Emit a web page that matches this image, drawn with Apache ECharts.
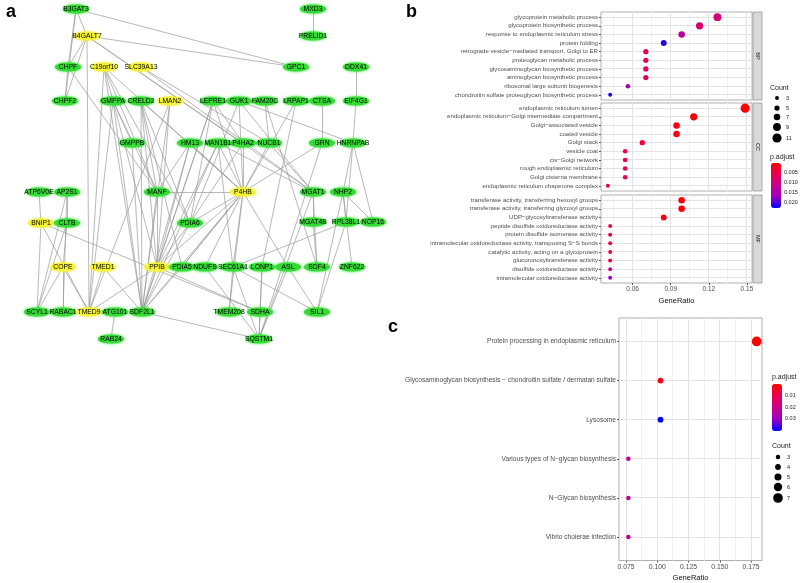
<!DOCTYPE html>
<html><head><meta charset="utf-8">
<script src="https://cdn.jsdelivr.net/npm/echarts@6/dist/echarts.min.js"></script>
<style>html,body{margin:0;padding:0;background:#fff}#c{width:800px;height:583px}</style>
</head><body><div id="c"></div><script>
// ---------------- DATA ----------------
// Panel a: network (layout coordinates)
const nodeNames = ['B3GAT3','MXD3','B4GALT7','PRELID1','CHPF','C19orf10','SLC39A13','GPC1','DDX41',
 'CHPF2','GMPPA','CRELD2','LMAN2','LEPRE1','GUK1','FAM20C','LRPAP1','CTSA','EIF4G1',
 'GMPPB','HM13','MAN1B1','P4HA2','NUCB1','GRN','HNRNPAB',
 'ATP6V0E','AP2S1','MANF','P4HB','MGAT1','NHP2',
 'BNIP1','CLTB','PDIA6','MGAT4B','RPL38L1','NOP16',
 'COPE','TMED1','PPIB','PDIA5','NDUFS','SEC61A1','LONP1','ASL','SDF4','ZNF622',
 'SCYL1','RABAC1','TMED9','ATG101','SDF2L1','TMEM208','SDHA','SIL1',
 'RAB24','SQSTM1'];
const nodeX = [76,313,87,313,68,104,141,296,356,
 65,113,141,170,213,239,265,296,322,356,
 132,190,218,243,269,322,353,
 39,67,157,243,313,343,
 41,67,190,313,346,373,
 63,103,157,182,205,233,262,288,317,352,
 37,63,89,115,142,229,260,317,
 111,259];
const nodeY = [9,9,36,36,67,67,67,67,67,
 101,101,101,101,101,101,101,101,101,101,
 143,143,143,143,143,143,143,
 192,192,192,192,192,192,
 223,223,223,222,222,222,
 267,267,267,267,267,267,267,267,267,267,
 312,312,312,312,312,312,312,312,
 339,339];
const hubGenes = ['B4GALT7','C19orf10','SLC39A13','LMAN2','P4HB','BNIP1','COPE','TMED1','PPIB','TMED9'];
const edges = [
 ['B3GAT3','B4GALT7'],['B3GAT3','CHPF'],['B3GAT3','CHPF2'],['B3GAT3','GPC1'],
 ['B4GALT7','GPC1'],['B4GALT7','CHPF'],['B4GALT7','CHPF2'],['B4GALT7','TMED9'],['B4GALT7','MGAT1'],['B4GALT7','P4HA2'],
 ['CHPF','CHPF2'],['CHPF','MANF'],
 ['MXD3','PRELID1'],['DDX41','EIF4G1'],['EIF4G1','HNRNPAB'],
 ['C19orf10','TMED9'],['C19orf10','MANF'],['C19orf10','PPIB'],['C19orf10','SDF2L1'],['C19orf10','P4HB'],['C19orf10','PDIA6'],
 ['SLC39A13','NUCB1'],['SLC39A13','MGAT1'],
 ['GMPPA','GMPPB'],['GMPPA','MANF'],['GMPPA','SDF2L1'],['GMPPA','TMED9'],
 ['CRELD2','MANF'],['CRELD2','PPIB'],['CRELD2','SDF2L1'],['CRELD2','PDIA6'],['CRELD2','P4HB'],['CRELD2','PDIA5'],
 ['LMAN2','TMED9'],['LMAN2','SDF2L1'],['LMAN2','PPIB'],
 ['GMPPB','SDF2L1'],
 ['LEPRE1','P4HB'],['LEPRE1','PPIB'],['LEPRE1','PDIA6'],['LEPRE1','SDF2L1'],['LEPRE1','P4HA2'],
 ['GUK1','P4HB'],['GUK1','MGAT1'],['GUK1','PDIA6'],['GUK1','HNRNPAB'],
 ['FAM20C','NUCB1'],['FAM20C','SDF4'],
 ['LRPAP1','P4HB'],['LRPAP1','LONP1'],
 ['CTSA','GRN'],['GRN','P4HB'],['GRN','SQSTM1'],
 ['HNRNPAB','NHP2'],['HNRNPAB','NOP16'],['HNRNPAB','RPL38L1'],
 ['HM13','PPIB'],['HM13','SDF2L1'],['HM13','P4HB'],['HM13','MANF'],
 ['MAN1B1','P4HB'],['MAN1B1','MGAT1'],['MAN1B1','PPIB'],['MAN1B1','SEC61A1'],['MAN1B1','SDF2L1'],
 ['P4HA2','P4HB'],['P4HA2','PDIA6'],
 ['NUCB1','P4HB'],['NUCB1','MGAT1'],
 ['ATP6V0E','BNIP1'],['AP2S1','CLTB'],['AP2S1','SCYL1'],['AP2S1','RABAC1'],
 ['CLTB','SCYL1'],['CLTB','COPE'],
 ['BNIP1','TMED9'],['BNIP1','SCYL1'],['BNIP1','SDHA'],
 ['COPE','SCYL1'],['COPE','RABAC1'],['COPE','TMED9'],
 ['TMED1','TMED9'],['TMED1','SDF2L1'],
 ['PPIB','SDF2L1'],['PPIB','P4HB'],['PPIB','PDIA6'],['PPIB','MANF'],['PPIB','TMED9'],['PPIB','SDHA'],
 ['PDIA5','P4HB'],['PDIA5','SDF2L1'],
 ['PDIA6','P4HB'],['PDIA6','SDF2L1'],
 ['MANF','SDF2L1'],['MANF','P4HB'],
 ['P4HB','SDF2L1'],['P4HB','SEC61A1'],['P4HB','ASL'],['P4HB','TMEM208'],['P4HB','PDIA5'],['P4HB','NDUFS'],
 ['MGAT1','MGAT4B'],['MGAT1','SDF4'],['MGAT1','SQSTM1'],
 ['NHP2','RPL38L1'],['NHP2','NOP16'],['NHP2','ZNF622'],['NHP2','SIL1'],
 ['RPL38L1','SEC61A1'],['RPL38L1','SIL1'],
 ['MGAT4B','SDF4'],['ASL','SIL1'],['ASL','SQSTM1'],
 ['LONP1','SQSTM1'],['LONP1','SDHA'],
 ['SEC61A1','SIL1'],['SEC61A1','SQSTM1'],['SEC61A1','TMEM208'],
 ['NDUFS','SQSTM1'],['SDF2L1','SQSTM1'],['SDHA','SQSTM1'],['ATG101','RAB24']
];

// Panel b: GO dot plot
const facetNames = ['BP','CC','MF'];
const bpTerms = ['glycoprotein metabolic process','glycoprotein biosynthetic process','response to endoplasmic reticulum stress','protein folding','retrograde vesicle\u2212mediated transport, Golgi to ER','proteoglycan metabolic process','glycosaminoglycan biosynthetic process','aminoglycan biosynthetic process','ribosomal large subunit biogenesis','chondroitin sulfate proteoglycan biosynthetic process'];
const bpRatio = [0.1268,0.1127,0.0986,0.0845,0.0704,0.0704,0.0704,0.0704,0.0563,0.0423];
const bpCount = [9,8,7,6,5,5,5,5,4,3];
const bpP = [0.0095,0.0088,0.0128,0.0210,0.0068,0.0068,0.0068,0.0068,0.0160,0.0215];
const ccTerms = ['endoplasmic reticulum lumen','endoplasmic reticulum\u2212Golgi intermediate compartment','Golgi\u2212associated vesicle','coated vesicle','Golgi stack','vesicle coat','cis\u2212Golgi network','rough endoplasmic reticulum','Golgi cisterna membrane','endoplasmic reticulum chaperone complex'];
const ccRatio = [0.1486,0.1081,0.0946,0.0946,0.0676,0.0541,0.0541,0.0541,0.0541,0.0405];
const ccCount = [11,8,7,7,5,4,4,4,4,3];
const ccP = [0.0003,0.0008,0.0015,0.0015,0.0045,0.0055,0.0055,0.0055,0.0055,0.0035];
const mfTerms = ['transferase activity, transferring hexosyl groups','transferase activity, transferring glycosyl groups','UDP\u2212glycosyltransferase activity','peptide disulfide oxidoreductase activity','protein disulfide isomerase activity','intramolecular oxidoreductase activity, transposing S\u2212S bonds','catalytic activity, acting on a glycoprotein','glucuronosyltransferase activity','disulfide oxidoreductase activity','intramolecular oxidoreductase activity'];
const mfRatio = [0.0986,0.0986,0.0845,0.0423,0.0423,0.0423,0.0423,0.0423,0.0423,0.0423];
const mfCount = [7,7,6,3,3,3,3,3,3,3];
const mfP = [0.0008,0.0008,0.0012,0.0045,0.0045,0.0045,0.0045,0.0050,0.0110,0.0170];
const bTicks = [0.06,0.09,0.12,0.15];
const bMinor = [0.045,0.075,0.105,0.135];
const bCountLegend = [3,5,7,9,11];
const bPLegend = [0.005,0.010,0.015,0.020];

// Panel c: KEGG dot plot
const keggTerms = ['Protein processing in endoplasmic reticulum','Glycosaminoglycan biosynthesis \u2212 chondroitin sulfate / dermatan sulfate','Lysosome','Various types of N\u2212glycan biosynthesis','N\u2212Glycan biosynthesis','Vibrio cholerae infection'];
const keggRatio = [0.1795,0.1026,0.1026,0.0769,0.0769,0.0769];
const keggCount = [7,4,4,3,3,3];
const keggP = [0.0005,0.0030,0.0400,0.0215,0.0215,0.0215];
const cTicks = [0.075,0.100,0.125,0.150,0.175];
const cMinor = [0.0875,0.1125,0.1375,0.1625];
const cCountLegend = [3,4,5,6,7];
const cPLegend = [0.01,0.02,0.03];

// ---------------- STYLE / LAYOUT ----------------
const FONT = 'Liberation Sans';
const GRAD = ['#FF0000','#E8004F','#C90089','#9A00C3','#0000FF'];
const sizeB = c => 2 + 0.65 * c;
const sizeC = c => 0.6 + 1.3 * c;
const bLeft = 601, bWidth = 151;
const bGrids = [{top:12,height:88},{top:103,height:88},{top:195,height:88}];
const bX = [0.0351, 0.154];
const cGrid = {left:619, top:318, width:143, height:243};
const cX = [0.0694, 0.1838];
const bVM = {min:0.0002, max:0.0225, left:771, top:163, h:45};
const cVM = {min:0.0003, max:0.0405, left:772, top:384, h:47};

const facetTerms = [bpTerms, ccTerms, mfTerms];
const facetRatio = [bpRatio, ccRatio, mfRatio];
const facetCount = [bpCount, ccCount, mfCount];
const facetP = [bpP, ccP, mfP];

// category rows are placed at positions 1..n (top to bottom, axis inverted)
const rowPos = terms => terms.map((t, j) => j + 1);

// gridlines as a custom series: kind 3 = horizontal major, 1 = vertical major, 2 = vertical minor
const snap = p => Math.round(p - 0.5) + 0.5;
function gridSeries(gi, xMajor, xMinor, rows) {
  const d = [];
  xMinor.forEach(v => d.push([2, v]));
  xMajor.forEach(v => d.push([1, v]));
  rows.forEach(r => d.push([3, r]));
  return {type: 'custom', xAxisIndex: gi, yAxisIndex: gi, z: 1, silent: true, animation: false,
    dimensions: ['kind', 'v'], encode: {x: 'kind', y: 'v'},
    data: d,
    renderItem: (params, api) => {
      const cs = params.coordSys;
      const kind = api.value(0), v = api.value(1);
      if (kind === 3) {
        const y = snap(api.coord([xMajor[0], v])[1]);
        return {type: 'line', shape: {x1: cs.x, y1: y, x2: cs.x + cs.width, y2: y},
          style: {stroke: '#e3e3e3', lineWidth: 1}};
      }
      const x = snap(api.coord([v, rows[0]])[0]);
      return {type: 'line', shape: {x1: x, y1: cs.y, x2: x, y2: cs.y + cs.height},
        style: {stroke: kind === 1 ? '#e3e3e3' : '#f1f1f1', lineWidth: 1}};
    }};
}

const grids = [{left:0, top:0, width:400, height:583}];
const xAxes = [{gridIndex:0, type:'value', min:0, max:400, show:false}];
const yAxes = [{gridIndex:0, type:'value', min:0, max:583, inverse:true, show:false}];
const series = [];

// network
series.push({
  type: 'graph', coordinateSystem: 'cartesian2d', xAxisIndex: 0, yAxisIndex: 0,
  symbol: 'circle', symbolSize: [26, 9], z: 3, animation: false,
  data: nodeNames.map((n, i) => {
    const hub = hubGenes.includes(n);
    return {name: n, value: [nodeX[i], nodeY[i]],
      itemStyle: {color: hub ? '#f4f23a' : '#36d936', shadowBlur: 3, shadowColor: hub ? '#f4f23a' : '#2ee82e'}};
  }),
  links: edges.map(e => ({source: e[0], target: e[1]})),
  lineStyle: {color: '#9a9a9a', width: 0.7, opacity: 1, curveness: 0},
  label: {show: true, position: 'inside', fontSize: 6.8, color: '#000', fontFamily: FONT},
  emphasis: {disabled: true}
});

function addDotPanel(gi, terms, ratio, count, pv, xr, ticks, tickFmt, showX, labelSize, tickSize, sizeFn) {
  const rows = rowPos(terms);
  xAxes.push({gridIndex: gi, type: 'value', min: xr[0], max: xr[1],
    axisLine: {show: false, onZero: false}, splitLine: {show: false},
    axisTick: {show: showX, customValues: ticks, length: 2, lineStyle: {color: '#555'}},
    axisLabel: {show: showX, customValues: ticks, formatter: tickFmt, fontSize: tickSize, color: '#4d4d4d', margin: 3, fontFamily: FONT},
    name: showX ? 'GeneRatio' : '', nameLocation: 'middle', nameGap: 13.5,
    nameTextStyle: {fontSize: 7.5, color: '#111', fontFamily: FONT}});
  yAxes.push({gridIndex: gi, type: 'value', min: 0.4, max: terms.length + 0.6, inverse: true,
    axisLine: {show: false, onZero: false}, splitLine: {show: false},
    axisTick: {show: true, customValues: rows, length: 2, lineStyle: {color: '#555'}},
    axisLabel: {customValues: rows, formatter: v => terms[Math.round(v) - 1], fontSize: labelSize, color: '#4d4d4d', margin: 3, fontFamily: FONT}});
  series.push({type: 'scatter', xAxisIndex: gi, yAxisIndex: gi, z: 10, animation: false,
    data: terms.map((t, j) => [ratio[j], rows[j], pv[j], count[j]]),
    symbolSize: v => sizeFn(v[3]), itemStyle: {opacity: 1}});
}

// panel b
for (let f = 0; f < 3; f++) {
  const gi = grids.length;
  grids.push({left: bLeft, top: bGrids[f].top, width: bWidth, height: bGrids[f].height,
    show: true, borderColor: '#8c8c8c', borderWidth: 0.7, backgroundColor: '#fff'});
  addDotPanel(gi, facetTerms[f], facetRatio[f], facetCount[f], facetP[f], bX, bTicks,
    v => v.toFixed(2), f === 2, 6.1, 6.5, sizeB);
}
// panel c
{
  const gi = grids.length;
  grids.push({left: cGrid.left, top: cGrid.top, width: cGrid.width, height: cGrid.height,
    show: true, borderColor: '#8c8c8c', borderWidth: 0.7, backgroundColor: '#fff'});
  addDotPanel(gi, keggTerms, keggRatio, keggCount, keggP, cX, cTicks,
    v => v.toFixed(3), true, 6.6, 6.8, sizeC);
}
// gridline series (after scatter series so visualMap indices stay 1..4)
for (let f = 0; f < 3; f++) series.push(gridSeries(f + 1, bTicks, bMinor, rowPos(facetTerms[f])));
series.push(gridSeries(4, cTicks, cMinor, rowPos(keggTerms)));

// graphics: strips and legends
const graphic = [];
const txt = (x, y, s, size, extra) => Object.assign({type: 'text', x: x, y: y, silent: true,
  style: {text: s, fontSize: size, fontFamily: FONT, fill: '#1a1a1a', align: 'left', verticalAlign: 'middle'}}, extra || {});
bGrids.forEach((g, f) => {
  graphic.push({type: 'rect', silent: true, shape: {x: bLeft + bWidth + 1, y: g.top, width: 9, height: g.height},
    style: {fill: '#d9d9d9', stroke: '#8c8c8c', lineWidth: 0.7}});
  const t = txt(bLeft + bWidth + 5.5, g.top + g.height / 2, facetNames[f], 5.5, {rotation: -Math.PI / 2});
  t.style.align = 'center';
  graphic.push(t);
});
// b legends
graphic.push(txt(770, 88, 'Count', 7));
const bDotY = [98, 108, 117, 127, 138];
bCountLegend.forEach((c, i) => {
  graphic.push({type: 'circle', silent: true, shape: {cx: 777, cy: bDotY[i], r: sizeB(c) / 2}, style: {fill: '#000'}});
  graphic.push(txt(786, bDotY[i], String(c), 5.5));
});
graphic.push(txt(770, 157, 'p.adjust', 7));
bPLegend.forEach(v => {
  const y = bVM.top + (v - bVM.min) / (bVM.max - bVM.min) * bVM.h;
  graphic.push(txt(784, y, v.toFixed(3), 5.5));
});
// c legends
graphic.push(txt(772, 377, 'p.adjust', 7));
cPLegend.forEach(v => {
  const y = cVM.top + (v - cVM.min) / (cVM.max - cVM.min) * cVM.h;
  graphic.push(txt(785, y, v.toFixed(2), 5.5));
});
graphic.push(txt(772, 446, 'Count', 7));
const cDotY = [457, 467, 477, 487, 498];
cCountLegend.forEach((c, i) => {
  graphic.push({type: 'circle', silent: true, shape: {cx: 778, cy: cDotY[i], r: sizeC(c) / 2}, style: {fill: '#000'}});
  graphic.push(txt(787, cDotY[i], String(c), 5.5));
});

const vmBase = {type: 'continuous', orient: 'vertical', inverse: true, calculable: false, dimension: 2,
  itemWidth: 10, padding: 0, inRange: {color: GRAD}, text: null, showLabel: false, hoverLink: false};

const option = {
  backgroundColor: '#fff',
  animation: false,
  title: [
    {text: 'a', left: 6, top: 3, padding: 0, textStyle: {fontSize: 18, fontWeight: 'bold', color: '#000', fontFamily: FONT}},
    {text: 'b', left: 406, top: 3, padding: 0, textStyle: {fontSize: 18, fontWeight: 'bold', color: '#000', fontFamily: FONT}},
    {text: 'c', left: 388, top: 318, padding: 0, textStyle: {fontSize: 18, fontWeight: 'bold', color: '#000', fontFamily: FONT}}
  ],
  grid: grids, xAxis: xAxes, yAxis: yAxes, series: series,
  visualMap: [
    Object.assign({}, vmBase, {seriesIndex: [1, 2, 3], min: bVM.min, max: bVM.max, left: bVM.left, top: bVM.top, itemHeight: bVM.h}),
    Object.assign({}, vmBase, {seriesIndex: [4], min: cVM.min, max: cVM.max, left: cVM.left, top: cVM.top, itemHeight: cVM.h})
  ],
  graphic: graphic
};
const chart = echarts.init(document.getElementById('c'), null, {renderer: 'canvas'});
chart.setOption(option);
</script></body></html>
